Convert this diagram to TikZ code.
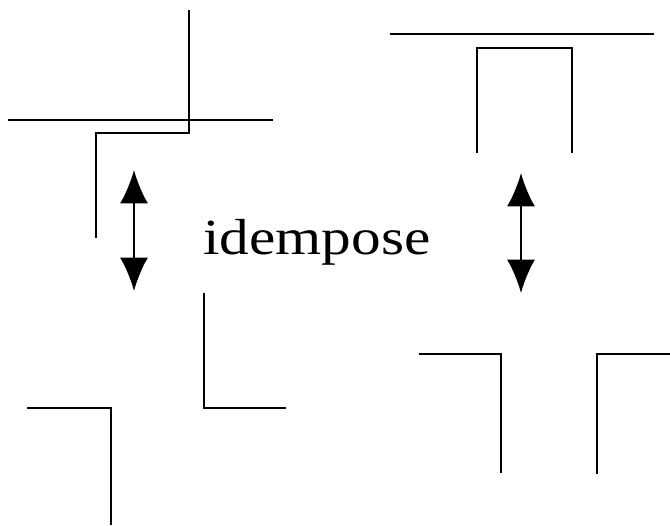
\documentclass[tikz,border=0pt]{standalone}
\usepackage{fontspec}
\setmainfont{Liberation Serif}
\usetikzlibrary{arrows.meta}
\begin{document}
\begin{tikzpicture}[x=0.75pt,y=-0.75pt,
  wall/.style={line width=1.7pt},
  swap/.style={line width=1.7pt,{Latex[length=25pt,width=21pt]}-{Latex[length=25pt,width=21pt]}},
  lbl/.style={font=\fontsize{38}{40}\selectfont,inner sep=0pt,xscale=1.17,anchor=base}]
\useasboundingbox (0,0) rectangle (670,525);
% top left
\draw[wall] (189,10) -- (189,133) -- (96,133) -- (96,238);
\draw[wall] (8,120) -- (273,120);
% top right
\draw[wall] (390,34) -- (654,34);
\draw[wall] (477,153) -- (477,48) -- (572,48) -- (572,153);
% bottom left
\draw[wall] (27,408) -- (111,408) -- (111,525);
\draw[wall] (204,293) -- (204,408) -- (286,408);
% bottom right
\draw[wall] (419,354) -- (501,354) -- (501,473);
\draw[wall] (597,474) -- (597,354) -- (670,354);
% arrows
\coordinate (a1) at (134,170);
\coordinate (b1) at (134,291);
\coordinate (a2) at (521,173);
\coordinate (b2) at (521,293);
\draw[swap] (a1) -- (b1);
\draw[swap] (a2) -- (b2);
\node[lbl] (t) at (317,254) {idempose};
\end{tikzpicture}
\end{document}
